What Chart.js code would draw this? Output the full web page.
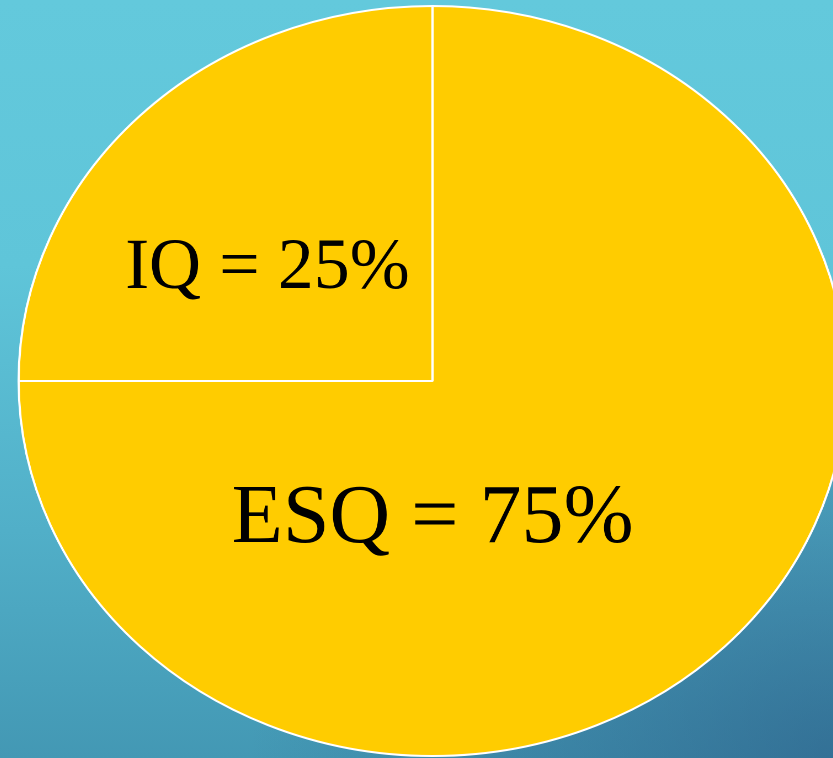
<!DOCTYPE html>
<html>
<head>
<meta charset="utf-8">
<script src="https://cdn.jsdelivr.net/npm/chart.js@4/dist/chart.umd.min.js"></script>
<style>
  html, body { margin: 0; padding: 0; }
  body {
    width: 833px; height: 758px; overflow: hidden; position: relative;
    background:
      radial-gradient(ellipse 70% 60% at 100% 100%, rgba(38,80,125,0.55) 0%, rgba(38,80,125,0) 100%),
      linear-gradient(180deg, #63c9dc 0%, #5fc5d9 35%, #51afc8 70%, #4398b4 100%);
  }
  #c { position: absolute; left: 11.5px; top: 0; width: 841px; height: 762px; }
</style>
</head>
<body>
<canvas id="c" width="762" height="762" style="position:absolute;left:11.5px;top:0;width:841px;height:762px"></canvas>
<script>
const categories = ['ESQ', 'IQ'];
const values = [75, 25];
const sliceColors = ['#FFCC00', '#FFCC00'];

// horizontal stretch factor (canvas is widened by CSS to form an ellipse)
const STRETCH = 841 / 762;

const labelPlugin = {
  id: 'sliceLabels',
  afterDatasetsDraw(chart, args, opts) {
    const ctx = chart.ctx;
    const meta = chart.getDatasetMeta(0);
    meta.data.forEach((arc, i) => {
      const pos = opts.positions[i];
      const r = arc.outerRadius;
      const x = arc.x + pos[0] * r;
      const y = arc.y + pos[1] * r;
      ctx.save();
      ctx.translate(x, y);
      ctx.scale(1 / STRETCH, 1);
      ctx.font = opts.sizes[i] + 'px "Liberation Serif", "Times New Roman", serif';
      ctx.fillStyle = '#000000';
      ctx.textAlign = 'center';
      ctx.textBaseline = 'alphabetic';
      ctx.fillText(categories[i] + ' = ' + values[i] + '%', 0, 0);
      ctx.restore();
    });
  }
};

new Chart(document.getElementById('c'), {
  type: 'pie',
  data: {
    labels: categories,
    datasets: [{
      data: values,
      backgroundColor: sliceColors,
      borderColor: '#ffffff',
      borderWidth: 2
    }]
  },
  options: {
    responsive: false,
    maintainAspectRatio: false,
    devicePixelRatio: 2,
    animation: false,
    radius: 375,
    layout: { padding: 0 },
    plugins: {
      legend: { display: false },
      tooltip: { enabled: false },
      title: { display: false },
      sliceLabels: {
        positions: [[0.0, 0.429], [-0.399, -0.248]],
        sizes: [84, 72]
      }
    }
  },
  plugins: [labelPlugin]
});
</script>
</body>
</html>
